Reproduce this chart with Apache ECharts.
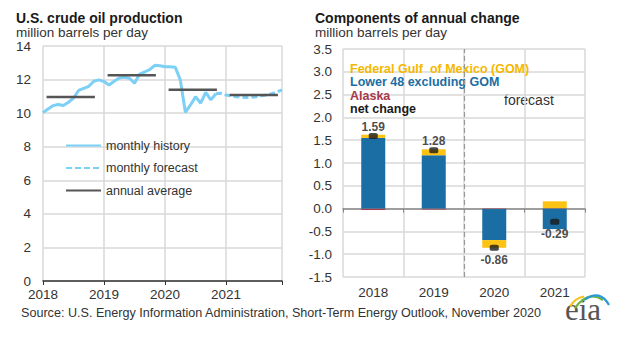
<!DOCTYPE html>
<html>
<head>
<meta charset="utf-8">
<script src="https://cdn.jsdelivr.net/npm/echarts@6/dist/echarts.min.js"></script>
<style>
html,body{margin:0;padding:0;background:#fff;}
#c{width:620px;height:337px;}
</style>
</head>
<body>
<div id="c"></div>
<script>
// ---- Left panel data: U.S. crude oil production (million barrels per day), monthly from Jan 2018
var yearLabels = ['2018', '2019', '2020', '2021'];
var monthlyHistory = [10.03, 10.25, 10.45, 10.52, 10.46, 10.65, 10.90, 11.35, 11.48, 11.60, 11.90, 11.98,
                      11.88, 11.68, 11.90, 12.10, 12.14, 12.08, 11.78, 12.33, 12.45, 12.60, 12.85, 12.82,
                      12.77, 12.76, 12.74, 11.98, 10.05, 10.49, 10.98, 10.59, 11.24, 10.79, 11.15];
var monthlyForecast = [11.15, 11.18, 11.08, 11.03, 10.98, 10.95, 10.93, 10.95, 10.98, 11.03, 11.08, 11.16, 11.26, 11.38];
var annualAverage = [10.96, 12.26, 11.40, 11.08];
var leftYTicks = [0, 2, 4, 6, 8, 10, 12, 14];

// ---- Right panel data: components of annual change (million barrels per day)
var changeYears = ['2018', '2019', '2020', '2021'];
var alaska = [-0.03, -0.02, -0.01, 0.01];
var lower48 = [1.55, 1.17, -0.68, -0.45];
var gom = [0.07, 0.13, -0.17, 0.15];
var netChange = [1.59, 1.28, -0.86, -0.29];
var rightYTicks = [-1.5, -1.0, -0.5, 0.0, 0.5, 1.0, 1.5, 2.0, 2.5, 3.0, 3.5];
var forecastStartIndex = 2; // first forecast year in changeYears

var FONT = '"Liberation Sans", Arial, sans-serif';
var GRID_C = '#d9d9d9';

var forecastStartMonth = monthlyHistory.length - 1;
var annualData = [];
annualAverage.forEach(function (v, i) {
  annualData.push([i * 12 + 0.7, v]);
  annualData.push([i * 12 + 10.2, v]);
  annualData.push([i * 12 + 11, null]);
});

var chart = echarts.init(document.getElementById('c'), null, {renderer: 'svg'});
chart.setOption({
  animation: false,
  backgroundColor: '#fff',
  textStyle: {fontFamily: FONT},
  grid: [
    {left: 43, top: 46, width: 239, height: 235},
    {left: 343, top: 49, width: 242, height: 228}
  ],
  xAxis: [
    {
      gridIndex: 0, type: 'value', min: 0, max: 47, interval: 12,
      axisLine: {show: true, lineStyle: {color: '#333', width: 1.5}},
      axisTick: {show: true, length: 4, lineStyle: {color: '#333'}},
      axisLabel: {
        fontSize: 13.5, color: '#333', margin: 6, showMaxLabel: true,
        formatter: function (v) { return v % 12 === 0 ? yearLabels[v / 12] : ''; }
      },
      splitLine: {show: true, lineStyle: {color: GRID_C, width: 1.5}}
    },
    {
      gridIndex: 1, type: 'category', data: changeYears, position: 'bottom',
      axisLine: {show: false, onZero: false},
      axisTick: {show: false},
      axisLabel: {fontSize: 13.5, color: '#333', margin: 8},
      splitLine: {show: true, lineStyle: {color: GRID_C, width: 1.5}}
    },
    {
      gridIndex: 1, type: 'category', data: changeYears, position: 'top',
      axisLine: {show: true, onZero: true, lineStyle: {color: '#888', width: 1.5}},
      axisTick: {show: true, inside: true, length: 4, lineStyle: {color: '#888'}},
      axisLabel: {show: false},
      splitLine: {show: false}
    },
    {
      gridIndex: 1, type: 'value', min: 0, max: changeYears.length, show: false
    }
  ],
  yAxis: [
    {
      gridIndex: 0, type: 'value', min: leftYTicks[0], max: leftYTicks[leftYTicks.length - 1], interval: 2,
      axisLine: {show: false}, axisTick: {show: false},
      axisLabel: {fontSize: 13.5, color: '#333', margin: 12},
      splitLine: {show: true, lineStyle: {color: GRID_C, width: 1.5}}
    },
    {
      gridIndex: 1, type: 'value', min: rightYTicks[0], max: rightYTicks[rightYTicks.length - 1], interval: 0.5,
      axisLine: {show: false}, axisTick: {show: false},
      axisLabel: {fontSize: 13.5, color: '#333', margin: 11, formatter: function (v) { return v.toFixed(1); }},
      splitLine: {show: true, lineStyle: {color: GRID_C, width: 1.5}}
    }
  ],
  legend: [
    {
      data: ['monthly history', 'monthly forecast', 'annual average'],
      orient: 'vertical', left: 60, top: 134,
      itemWidth: 35, itemHeight: 1, itemGap: 9.5,
      selectedMode: false,
      textStyle: {fontSize: 12.5, color: '#333', lineHeight: 12, fontFamily: FONT}
    },
    {
      data: [
        {name: 'Federal Gulf  of Mexico (GOM)', textStyle: {color: '#f5b800'}},
        {name: 'Lower 48 excluding GOM', textStyle: {color: '#1a6ea3'}},
        {name: 'Alaska', textStyle: {color: '#a7374a'}},
        {name: 'net change', textStyle: {color: '#1a1a1a'}}
      ],
      orient: 'vertical', left: 340, top: 57.5,
      itemWidth: 0, itemHeight: 8, itemGap: 0,
      selectedMode: false,
      textStyle: {fontSize: 12.5, fontWeight: 'bold', lineHeight: 13.3, fontFamily: FONT}
    }
  ],
  series: [
    {
      name: 'monthly history', type: 'line', xAxisIndex: 0, yAxisIndex: 0,
      data: monthlyHistory.map(function (v, i) { return [i, v]; }),
      symbol: 'none', color: '#7ccff5',
      lineStyle: {width: 3, color: '#7ccff5'}
    },
    {
      name: 'monthly forecast', type: 'line', xAxisIndex: 0, yAxisIndex: 0,
      data: monthlyForecast.map(function (v, i) { return [forecastStartMonth + i, v]; }),
      symbol: 'none', color: '#7ccff5',
      lineStyle: {width: 3, color: '#7ccff5', type: [6, 3]}
    },
    {
      name: 'annual average', type: 'line', xAxisIndex: 0, yAxisIndex: 0,
      data: annualData, connectNulls: false,
      symbol: 'none', color: '#555', z: 3,
      lineStyle: {width: 2.5, color: '#555'}
    },
    {
      name: 'Alaska', type: 'bar', xAxisIndex: 1, yAxisIndex: 1, stack: 'chg',
      data: alaska, barWidth: 24, color: '#a7374a'
    },
    {
      name: 'Lower 48 excluding GOM', type: 'bar', xAxisIndex: 1, yAxisIndex: 1, stack: 'chg',
      data: lower48, barWidth: 24, color: '#1a6ea3'
    },
    {
      name: 'Federal Gulf  of Mexico (GOM)', type: 'bar', xAxisIndex: 1, yAxisIndex: 1, stack: 'chg',
      data: gom, barWidth: 24, color: '#fcc315'
    },
    {
      name: 'net change', type: 'scatter', xAxisIndex: 1, yAxisIndex: 1, z: 5,
      symbol: 'roundRect', symbolSize: [9, 6], color: '#1a1a1a',
      data: netChange.map(function (v) {
        return {
          value: v,
          label: {position: v >= 0 ? 'top' : 'bottom', distance: v >= 0 ? 0 : 3}
        };
      }),
      label: {
        show: true, fontSize: 12, fontWeight: 'bold', color: '#1a1a1a',
        formatter: function (p) { return p.value.toFixed(2); }
      }
    },
    {
      name: 'divider', type: 'line', xAxisIndex: 3, yAxisIndex: 1, data: [],
      markLine: {
        silent: true, symbol: 'none', label: {show: false},
        lineStyle: {color: '#999', width: 1.2, type: [5, 3]},
        data: [{xAxis: forecastStartIndex}]
      }
    }
  ],
  graphic: [
    {type: 'text', style: {text: 'U.S. crude oil production', x: 16, y: 17.8, verticalAlign: 'middle',
      font: 'bold 14px ' + FONT, fill: '#1a1a1a'}},
    {type: 'text', style: {text: 'million barrels per day', x: 16, y: 32, verticalAlign: 'middle',
      font: '13.5px ' + FONT, fill: '#333'}},
    {type: 'text', style: {text: 'Components of annual change', x: 315, y: 17.8, verticalAlign: 'middle',
      font: 'bold 14px ' + FONT, fill: '#1a1a1a'}},
    {type: 'text', style: {text: 'million barrels per day', x: 315, y: 32, verticalAlign: 'middle',
      font: '13.5px ' + FONT, fill: '#333'}},
    {type: 'text', style: {text: 'forecast', x: 504, y: 100, verticalAlign: 'middle',
      font: '14px ' + FONT, fill: '#333'}},
    {type: 'text', style: {text: 'Source: U.S. Energy Information Administration, Short-Term Energy Outlook, November 2020',
      x: 21, y: 313, verticalAlign: 'middle', font: '12.6px ' + FONT, fill: '#333'}},
    // eia logo
    {type: 'text', style: {text: 'eia', x: 583, y: 325, align: 'center', verticalAlign: 'bottom',
      font: '31px "Liberation Serif", "DejaVu Serif", serif', fill: '#555'}},
    {type: 'bezierCurve', shape: {x1: 570, y1: 306.5, x2: 584, y2: 296.5, cpx1: 575, cpy1: 298},
      style: {stroke: '#f7c21a', lineWidth: 2.2, fill: null}},
    {type: 'bezierCurve', shape: {x1: 575, y1: 308, x2: 603, y2: 300, cpx1: 588, cpy1: 290},
      style: {stroke: '#6cb33f', lineWidth: 2.2, fill: null}},
    {type: 'bezierCurve', shape: {x1: 585, y1: 299.5, x2: 609, y2: 305, cpx1: 600, cpy1: 289},
      style: {stroke: '#2a9ad6', lineWidth: 2.2, fill: null}}
  ]
});
</script>
</body>
</html>
